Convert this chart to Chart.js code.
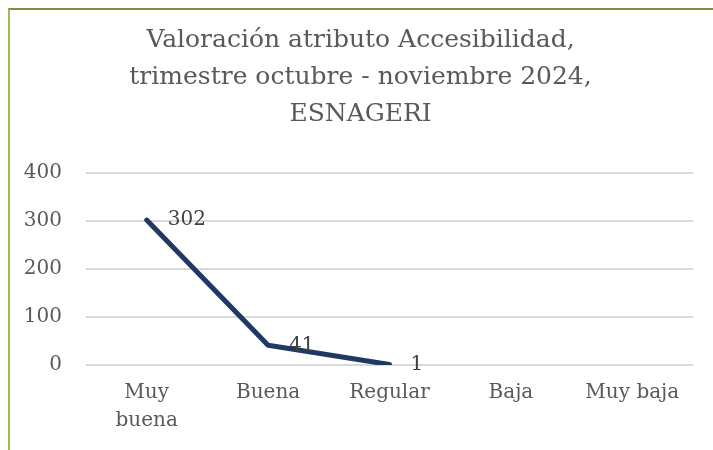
<!DOCTYPE html>
<html>
<head>
<meta charset="utf-8">
<script src="https://cdn.jsdelivr.net/npm/chart.js@4/dist/chart.umd.min.js"></script>
<style>
  html, body { margin: 0; padding: 0; background: #fff; }
  #wrap { position: relative; width: 713px; height: 450px; }
  #frame { position: absolute; left: 8px; top: 8px; right: 0; bottom: 0;
           border-top: 2px solid #77933c; border-left: 2px solid #9bbb59; }
</style>
</head>
<body>
<div id="wrap">
  <canvas id="chart" width="713" height="450"></canvas>
  <div id="frame"></div>
</div>
<script>
var categories = [['Muy', 'buena'], 'Buena', 'Regular', 'Baja', 'Muy baja'];
var valores = [302, 41, 1, null, null];
var yTicks = [0, 100, 200, 300, 400];

var serif = 'DejaVu Serif';

// etiquetas de datos a la derecha de cada punto
var dataLabels = {
    id: 'dataLabels',
    afterDatasetsDraw: function(chart) {
        var ctx = chart.ctx;
        var meta = chart.getDatasetMeta(0);
        ctx.save();
        ctx.font = '20px "' + serif + '"';
        ctx.fillStyle = '#404040';
        ctx.textAlign = 'left';
        ctx.textBaseline = 'middle';
        meta.data.forEach(function(pt, i) {
            var v = chart.data.datasets[0].data[i];
            if (v === null) return;
            ctx.fillText(String(v), pt.x + 21, pt.y);
        });
        ctx.restore();
    }
};

new Chart(document.getElementById('chart'), {
    type: 'line',
    data: {
        labels: categories,
        datasets: [{
            data: valores,
            borderColor: '#1f3864',
            borderWidth: 5,
            borderCapStyle: 'round',
            borderJoinStyle: 'round',
            pointRadius: 0,
            tension: 0,
            spanGaps: false
        }]
    },
    options: {
        responsive: false,
        animation: false,
        layout: { padding: { left: 8, right: 0, top: 22, bottom: 1 } },
        plugins: {
            legend: { display: false },
            tooltip: { enabled: false },
            title: {
                display: true,
                text: ['Valoración atributo Accesibilidad,', 'trimestre octubre - noviembre 2024,', 'ESNAGERI'],
                color: '#595959',
                font: { family: serif, size: 25, weight: 'normal', lineHeight: 1.48 },
                padding: { top: 0, bottom: 40 }
            }
        },
        scales: {
            x: {
                offset: true,
                grid: { display: false, drawTicks: false },
                border: { display: false },
                ticks: { color: '#595959', font: { family: serif, size: 20, lineHeight: 1.4 }, padding: 14, maxRotation: 0 }
            },
            y: {
                min: 0,
                max: 400,
                afterBuildTicks: function(scale) {
                    scale.ticks = yTicks.map(function(v) { return { value: v }; });
                },
                afterFit: function(scale) { scale.width = 78; },
                grid: { color: '#d9d9d9', lineWidth: 2, drawTicks: false },
                border: { display: false },
                ticks: { color: '#595959', font: { family: serif, size: 20 }, padding: 24 }
            },
            // eje vacío a la derecha, sólo para dejar margen
            yRight: {
                position: 'right',
                grid: { display: false, drawTicks: false },
                border: { display: false },
                ticks: { display: false },
                afterFit: function(scale) { scale.width = 20; }
            }
        }
    },
    plugins: [dataLabels]
});
</script>
</body>
</html>
